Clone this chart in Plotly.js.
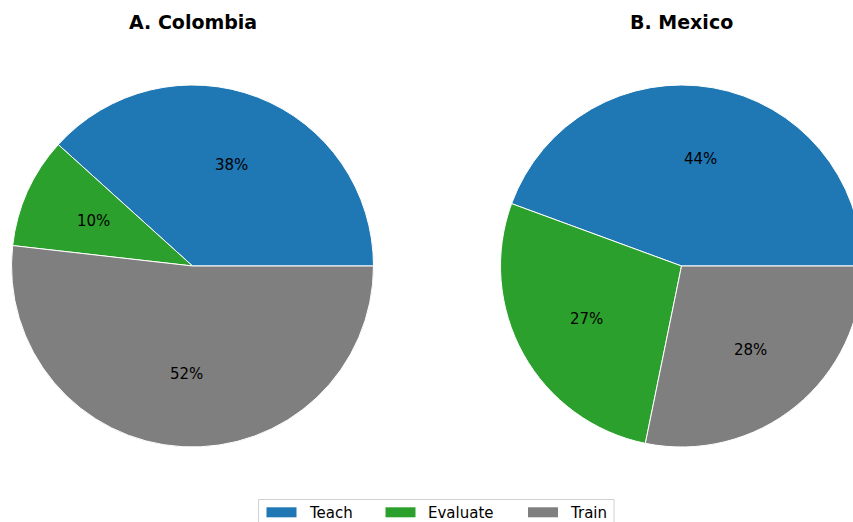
<!DOCTYPE html>
<html>
<head>
<meta charset="utf-8">
<script src="https://cdn.plot.ly/plotly-3.0.1.min.js"></script>
<style>
  html, body { margin: 0; padding: 0; overflow: hidden; background: #ffffff; }
  #chart { width: 870px; height: 522px; }
</style>
</head>
<body>
<div id="chart"></div>
<script>
// ---- data ----
const categories = ["Teach", "Evaluate", "Train"];
const colombiaValues = [38.3, 9.9, 51.8];
const mexicoValues = [44.4, 27.4, 28.2];
const panelTitles = ["A. Colombia", "B. Mexico"];
const sliceColors = ["#1f77b4", "#2ca02c", "#7f7f7f"];

// ---- layout geometry (pixels) ----
const W = 870, H = 522;
const domains = [
  { x: [0.01322, 0.42931], y: [0.14368, 0.83716] },
  { x: [0.57529, 0.99138], y: [0.14368, 0.83716] }
];
const legendBox = { x0: 258.5, x1: 614, y0: 499.5, y1: 545 };
const legendPatchX = [266.5, 385.5, 528];
const legendPatchSize = { w: 30, h: 10 };
const legendPatchY = 507.3;
const legendTextGap = 10;
const legendTextY = 512.5;

const seriesList = [colombiaValues, mexicoValues];

function startRotation(vals) {
  const total = vals.reduce((a, b) => a + b, 0);
  return 90 - 360 * vals[0] / total;
}

const traces = seriesList.map((vals, i) => ({
  type: "pie",
  labels: categories,
  values: vals,
  sort: false,
  direction: "counterclockwise",
  rotation: startRotation(vals),
  domain: domains[i],
  marker: { colors: sliceColors, line: { color: "#ffffff", width: 1 } },
  textinfo: "none",
  hoverinfo: "label+percent",
  showlegend: false
}));

const px = x => x / W;
const py = y => (H - y) / H;

// percentage labels at 0.6 of radius (matplotlib style) + panel titles
const annotations = [];
seriesList.forEach((vals, i) => {
  const d = domains[i];
  const total = vals.reduce((a, b) => a + b, 0);
  const cx = (d.x[0] + d.x[1]) / 2 * W;
  const cy = (d.y[0] + d.y[1]) / 2 * H;
  const r = Math.min((d.x[1] - d.x[0]) * W, (d.y[1] - d.y[0]) * H) / 2;
  let cum = 0;
  vals.forEach(v => {
    const th = 2 * Math.PI * (cum + v / 2) / total;
    cum += v;
    annotations.push({
      xref: "paper", yref: "paper",
      x: (cx + 0.6 * r * Math.cos(th)) / W,
      y: (cy + 0.6 * r * Math.sin(th)) / H,
      xanchor: "center", yanchor: "middle",
      text: Math.round(100 * v / total) + "%",
      showarrow: false,
      font: { family: "DejaVu Sans", size: 15, color: "#000000" }
    });
  });
  annotations.push({
    xref: "paper", yref: "paper",
    x: cx / W, y: py(22),
    xanchor: "center", yanchor: "middle",
    text: "<b>" + panelTitles[i] + "</b>",
    showarrow: false,
    font: { family: "DejaVu Sans", size: 19, color: "#000000" }
  });
});

// legend (matplotlib-style: wide patches inside a light frame)
const shapes = [{
  type: "rect", xref: "paper", yref: "paper",
  x0: px(legendBox.x0), x1: px(legendBox.x1),
  y0: py(legendBox.y1), y1: py(legendBox.y0),
  line: { color: "#d0d0d0", width: 1 },
  fillcolor: "rgba(255,255,255,0.8)",
  layer: "above"
}];
categories.forEach((cat, k) => {
  shapes.push({
    type: "rect", xref: "paper", yref: "paper",
    x0: px(legendPatchX[k]), x1: px(legendPatchX[k] + legendPatchSize.w),
    y0: py(legendPatchY + legendPatchSize.h), y1: py(legendPatchY),
    line: { width: 0 },
    fillcolor: sliceColors[k],
    layer: "above"
  });
  annotations.push({
    xref: "paper", yref: "paper",
    x: px(legendPatchX[k] + legendPatchSize.w + legendTextGap),
    y: py(legendTextY),
    xanchor: "left", yanchor: "middle",
    text: cat,
    showarrow: false,
    font: { family: "DejaVu Sans", size: 15, color: "#000000" }
  });
});

const layout = {
  width: W, height: H,
  margin: { l: 0, r: 0, t: 0, b: 0, autoexpand: false },
  paper_bgcolor: "#ffffff",
  font: { family: "DejaVu Sans", size: 15, color: "#000000" },
  showlegend: false,
  shapes: shapes,
  annotations: annotations
};

Plotly.newPlot("chart", traces, layout, { displayModeBar: false, staticPlot: true });
</script>
</body>
</html>
